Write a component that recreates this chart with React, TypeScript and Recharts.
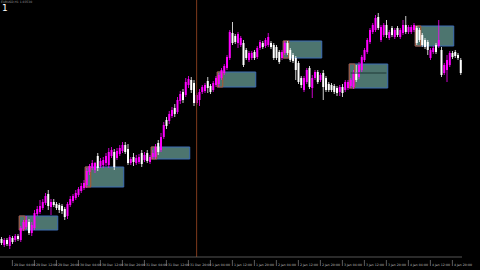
import React from 'react';
import { ComposedChart, Bar, XAxis, YAxis, ReferenceArea, ReferenceLine } from 'recharts';

// H1 candles, 29 Dec 00:00 .. 4 Jan 23:00
const opens = [
  18, 12, 17, 11, 19, 17, 21, 17, 28, 30,
  35, 24, 29, 43, 45, 49, 54, 63, 50, 55,
  53, 52, 51, 48, 41, 52, 56, 59, 62, 66,
  69, 72, 85, 89, 87, 101, 91, 92, 94, 92,
  101, 105, 99, 103, 106, 112, 108, 94, 100, 94,
  95, 104, 97, 104, 95, 100, 100, 114, 107, 120,
  137, 136, 141, 149, 145, 156, 165, 162, 172, 177,
  174, 154, 157, 165, 166, 176, 171, 167, 172, 173,
  179, 184, 189, 199, 224, 221, 214, 212, 214, 207,
  197, 199, 205, 200, 209, 214, 211, 212, 214, 212,
  210, 205, 199, 204, 214, 207, 202, 199, 194, 179,
  167, 175, 189, 169, 179, 185, 177, 184, 179, 173,
  172, 171, 169, 165, 170, 167, 169, 171, 170, 185,
  180, 187, 197, 205, 215, 225, 227, 240, 217, 222,
  232, 219, 229, 220, 229, 220, 224, 232, 225, 225,
  227, 229, 227, 222, 217, 215, 199, 205, 212, 211,
  207, 184, 187, 192, 204, 205, 202, 197,
];
const highs = [
  20, 19, 19, 22, 21, 23, 23, 31, 37, 41,
  38, 35, 47, 51, 57, 58, 64, 67, 58, 58,
  55, 54, 53, 50, 55, 61, 63, 67, 70, 74,
  77, 89, 93, 97, 95, 104, 99, 100, 104, 109,
  110, 108, 109, 112, 115, 115, 113, 100, 104, 102,
  103, 107, 105, 107, 102, 107, 113, 117, 124, 135,
  140, 146, 150, 153, 160, 166, 168, 179, 181, 180,
  177, 164, 168, 172, 174, 180, 173, 176, 181, 184,
  189, 193, 202, 227, 235, 223, 225, 221, 217, 209,
  206, 206, 207, 211, 217, 216, 219, 224, 216, 214,
  212, 207, 207, 216, 216, 209, 204, 201, 196, 181,
  181, 189, 191, 182, 187, 187, 184, 187, 181, 175,
  174, 173, 171, 172, 173, 177, 177, 179, 187, 192,
  195, 202, 209, 219, 229, 234, 242, 244, 232, 234,
  237, 227, 231, 229, 231, 229, 237, 241, 232, 232,
  234, 231, 229, 224, 219, 217, 209, 211, 214, 237,
  210, 194, 202, 206, 206, 207, 204, 199,
];
const lows = [
  12, 10, 11, 8, 13, 15, 16, 15, 26, 28,
  22, 21, 27, 41, 43, 47, 52, 47, 42, 50,
  47, 44, 43, 37, 38, 50, 54, 57, 60, 64,
  67, 69, 82, 87, 84, 86, 89, 89, 91, 89,
  99, 87, 97, 101, 104, 103, 92, 92, 91, 92,
  93, 90, 95, 94, 93, 98, 98, 102, 105, 118,
  128, 133, 139, 140, 143, 153, 154, 160, 169, 164,
  151, 152, 151, 163, 164, 164, 163, 165, 170, 170,
  177, 182, 187, 197, 212, 213, 209, 210, 190, 197,
  195, 197, 197, 198, 207, 208, 209, 210, 208, 197,
  197, 193, 197, 202, 202, 195, 194, 177, 173, 169,
  165, 173, 168, 159, 177, 173, 175, 157, 165, 165,
  165, 163, 161, 161, 160, 165, 167, 169, 168, 175,
  178, 185, 195, 203, 213, 223, 225, 227, 215, 220,
  219, 217, 220, 218, 220, 218, 222, 223, 223, 223,
  225, 212, 215, 210, 208, 202, 197, 203, 203, 209,
  180, 182, 175, 190, 198, 199, 197, 182,
];
const closes = [
  14, 17, 13, 20, 15, 21, 18, 29, 35, 37,
  24, 32, 44, 48, 51, 55, 61, 51, 55, 52,
  49, 47, 46, 40, 53, 58, 61, 64, 68, 71,
  74, 86, 91, 94, 94, 89, 96, 97, 101, 105,
  107, 90, 106, 109, 112, 105, 94, 98, 95, 99,
  100, 93, 102, 96, 100, 104, 110, 105, 120, 132,
  131, 143, 147, 143, 157, 163, 157, 175, 178, 167,
  154, 162, 165, 170, 172, 169, 165, 174, 179, 182,
  187, 191, 200, 225, 214, 215, 223, 219, 192, 199,
  204, 204, 199, 209, 215, 210, 217, 220, 210, 199,
  199, 195, 205, 214, 204, 197, 196, 187, 175, 172,
  179, 187, 170, 179, 185, 175, 182, 170, 167, 167,
  167, 165, 164, 170, 164, 175, 175, 177, 185, 177,
  192, 200, 207, 217, 227, 232, 239, 229, 230, 232,
  222, 225, 222, 227, 222, 227, 232, 225, 230, 230,
  232, 214, 217, 212, 210, 207, 207, 209, 205, 217,
  182, 192, 197, 204, 200, 201, 199, 184,
];

const tickIdx = [4, 12, 20, 28, 36, 44, 52, 60, 68, 76, 84, 92, 100, 108, 116, 124, 132, 140, 148, 156, 164];
const tickLabels = [
  '29 Dec 04:00', '29 Dec 12:00', '29 Dec 20:00', '30 Dec 04:00', '30 Dec 12:00', '30 Dec 20:00',
  '31 Dec 04:00', '31 Dec 12:00', '31 Dec 20:00', '1 Jan 04:00', '1 Jan 12:00', '1 Jan 20:00',
  '2 Jan 04:00', '2 Jan 12:00', '2 Jan 20:00', '3 Jan 04:00', '3 Jan 12:00', '3 Jan 20:00',
  '4 Jan 04:00', '4 Jan 12:00', '4 Jan 20:00',
];

// session boxes
const boxStart = [7, 31, 55, 79, 103, 127, 151];
const boxEnd = [20, 44, 68, 92, 116, 140, 164];
const boxHigh = [41, 90, 110, 185, 216, 193, 231];
const boxLow = [27, 70, 98, 170, 199, 169, 211];

const SEPARATOR = 71;

const data = opens.map((o, i) => ({ i, open: o, high: highs[i], low: lows[i], close: closes[i] }));

const Candle = (props: any) => {
  const { x, y, width, height, payload } = props;
  if (!payload) return null;
  const top = Math.min(y, y + height);
  const h = Math.abs(height);
  const { open, close, high, low } = payload;
  const span = high - low || 1;
  const py = (v: number) => top + ((high - v) / span) * h;
  const color = close >= open ? '#ff00ff' : '#ffffff';
  const cx = x + width / 2;
  const bTop = py(Math.max(open, close));
  const bBot = py(Math.min(open, close));
  return (
    <g>
      <line x1={cx} x2={cx} y1={top} y2={top + h} stroke={color} strokeWidth={0.8} />
      <rect x={cx - 1} y={bTop} width={2} height={Math.max(1, bBot - bTop)} fill={color} />
    </g>
  );
};

const TimeTick = (props: any) => {
  const { x, y, payload } = props;
  const k = tickIdx.indexOf(payload.value);
  if (k < 0) return null;
  return (
    <g>
      <line x1={x} x2={x} y1={y + 3} y2={y + 9} stroke="#9a9a9a" strokeWidth={0.6} />
      <text x={x + 1.5} y={y + 9} fontSize={3.2} fill="#b8b8b8" fontFamily="DejaVu Sans" textAnchor="start">
        {tickLabels[k]}
      </text>
    </g>
  );
};

export default function App() {
  return (
    <div style={{ position: 'fixed', left: 0, top: 0, width: 480, height: 270, background: '#000', overflow: 'hidden' }}>
      <ComposedChart
        width={480}
        height={270}
        data={data}
        margin={{ top: 0, right: 18, bottom: 0, left: 0 }}
        barCategoryGap={0}
        style={{ background: '#000' }}
      >
        <XAxis
          dataKey="i"
          type="category"
          ticks={tickIdx}
          interval={0}
          tick={<TimeTick />}
          tickLine={false}
          tickSize={0}
          tickMargin={0}
          axisLine={{ stroke: '#6a6a6a', strokeWidth: 0.8 }}
          height={13}
        />
        <YAxis hide type="number" domain={[0, 257]} allowDataOverflow />
        <ReferenceLine x={SEPARATOR} stroke="#7e3a1c" strokeWidth={1} />
        <Bar dataKey={(d: any) => [d.low, d.high]} shape={(p: any) => <Candle {...p} />} isAnimationActive={false} />
        {boxStart.map((s, k) => (
          <ReferenceArea
            key={'b' + k}
            x1={s}
            x2={boxEnd[k]}
            y1={boxLow[k]}
            y2={boxHigh[k]}
            fill="#5a8a83"
            fillOpacity={0.85}
            stroke="#3c6cb4"
            strokeWidth={1}
          />
        ))}
        {boxStart.map((s, k) => (
          <ReferenceArea
            key={'o' + k}
            x1={s}
            x2={s + 1}
            y1={boxLow[k]}
            y2={boxHigh[k]}
            fill="none"
            fillOpacity={0}
            stroke="#b4552a"
            strokeWidth={1}
          />
        ))}
        <ReferenceLine segment={[{ x: 127, y: 184 }, { x: 140, y: 184 }]} stroke="#1e3836" strokeWidth={1} />
      </ComposedChart>
      <div style={{ position: 'absolute', left: 1, top: 0, fontSize: 3, color: '#9a9a9a', fontFamily: 'DejaVu Sans', lineHeight: '4px' }}>
        EURUSD,H1 1.03530
      </div>
      <div style={{ position: 'absolute', left: 2, top: 3, fontSize: 9, color: '#ffffff', fontFamily: 'DejaVu Sans', lineHeight: '10px' }}>
        1
      </div>
    </div>
  );
}
